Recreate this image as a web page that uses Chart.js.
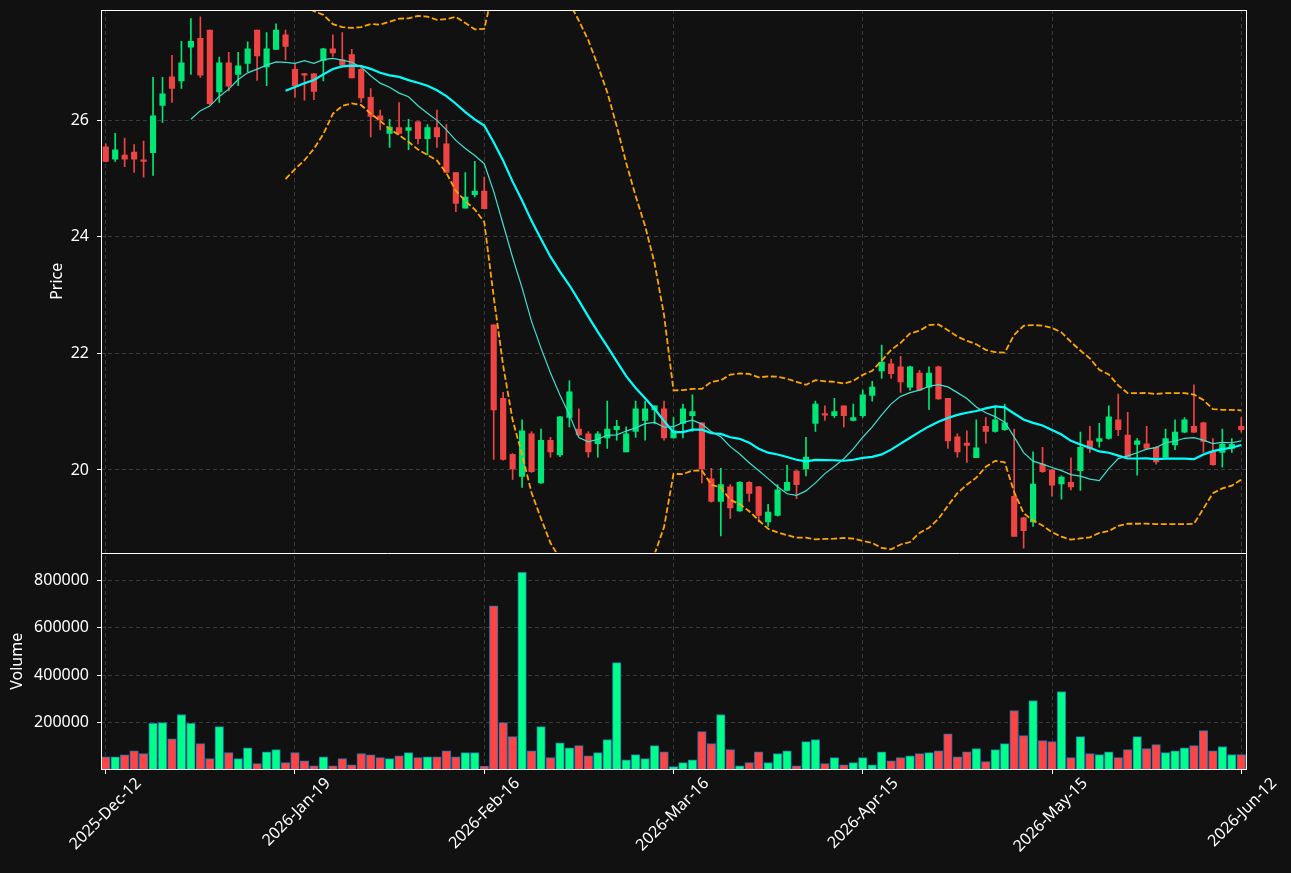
<!DOCTYPE html>
<html>
<head>
<meta charset="utf-8">
<script src="https://cdn.jsdelivr.net/npm/chart.js@4.4.1/dist/chart.umd.min.js"></script>
<style>
  html, body { margin: 0; padding: 0; background: #111111; }
</style>
</head>
<body>
<canvas id="chart" width="1291" height="873"></canvas>
<script>
// tick labels, one every 20 sessions
const tickDates = ["2025-Dec-12", "2026-Jan-19", "2026-Feb-16", "2026-Mar-16", "2026-Apr-15", "2026-May-15", "2026-Jun-12"];

const opens = [
  25.54, 25.33, 25.40, 25.45, 25.31, 25.44, 26.25, 26.74, 26.67, 27.25,
  27.40, 27.54, 26.48, 26.98, 26.78, 26.97, 27.54, 26.91, 27.21, 27.46,
  26.87, 26.79, 26.79, 27.02, 27.22, 27.03, 27.12, 26.87, 26.39, 26.07,
  25.77, 25.87, 25.82, 25.97, 25.68, 25.87, 25.59, 25.10, 24.49, 24.72,
  24.78, 22.49, 21.23, 20.27, 19.89, 20.62, 19.78, 20.51, 20.26, 20.90,
  20.70, 20.62, 20.45, 20.55, 20.69, 20.31, 20.66, 20.85, 21.03, 21.05,
  20.55, 20.80, 20.93, 20.81, 19.85, 19.46, 19.71, 19.30, 19.79, 19.71,
  19.11, 19.22, 19.65, 19.98, 20.02, 20.80, 20.96, 20.93, 21.10, 20.85,
  20.93, 21.28, 21.70, 21.82, 21.77, 21.42, 21.66, 21.42, 21.77, 21.23,
  20.57, 20.46, 20.21, 20.75, 20.66, 20.69, 19.55, 19.18, 19.11, 20.10,
  20.00, 19.76, 19.79, 19.99, 20.50, 20.49, 20.54, 20.86, 20.60, 20.44,
  20.45, 20.39, 20.22, 20.43, 20.65, 20.75, 20.81, 20.31, 20.30, 20.37,
  20.75
];
const highs = [
  25.59, 25.77, 25.69, 25.58, 25.64, 26.73, 26.73, 27.11, 27.35, 27.74,
  27.77, 27.54, 27.08, 27.16, 27.16, 27.34, 27.54, 27.50, 27.65, 27.54,
  26.97, 26.80, 26.80, 27.23, 27.46, 27.50, 27.21, 26.88, 26.54, 26.17,
  26.01, 26.30, 26.01, 25.98, 25.92, 26.17, 25.92, 25.10, 25.10, 25.29,
  25.02, 22.49, 21.33, 20.28, 20.86, 20.66, 20.70, 20.56, 20.92, 21.53,
  21.05, 20.66, 20.66, 21.18, 20.85, 20.74, 21.18, 21.18, 21.10, 21.18,
  20.90, 21.13, 21.29, 20.81, 20.03, 20.03, 19.75, 19.80, 19.80, 19.72,
  19.41, 19.75, 20.08, 19.99, 20.56, 21.18, 21.10, 21.23, 21.10, 21.13,
  21.37, 21.52, 22.14, 21.90, 21.95, 21.78, 21.71, 21.77, 21.78, 21.23,
  20.62, 20.67, 20.86, 20.90, 21.09, 21.13, 20.70, 19.19, 20.31, 20.39,
  20.01, 19.90, 20.21, 20.65, 20.75, 20.80, 21.10, 21.30, 20.99, 20.54,
  20.75, 20.40, 20.70, 20.86, 20.90, 21.46, 20.82, 20.54, 20.70, 20.54,
  20.90
];
const lows = [
  25.28, 25.29, 25.20, 25.10, 25.02, 25.05, 25.96, 26.30, 26.54, 26.78,
  26.73, 26.26, 26.30, 26.50, 26.59, 26.83, 26.68, 26.59, 27.21, 27.03,
  26.39, 26.34, 26.35, 26.67, 27.09, 26.93, 26.72, 26.30, 25.71, 25.83,
  25.53, 25.76, 25.49, 25.59, 25.40, 25.53, 25.10, 24.43, 24.49, 24.68,
  24.48, 20.18, 20.17, 19.84, 19.70, 19.96, 19.77, 20.22, 20.23, 20.74,
  20.59, 20.22, 20.22, 20.37, 20.51, 20.31, 20.56, 20.51, 20.79, 20.51,
  20.55, 20.55, 20.66, 19.78, 19.45, 18.87, 19.17, 19.29, 19.46, 19.11,
  19.03, 19.21, 19.64, 19.51, 19.90, 20.66, 20.85, 20.90, 20.74, 20.84,
  20.90, 21.18, 21.57, 21.57, 21.33, 21.37, 21.36, 21.04, 21.21, 20.37,
  20.22, 20.13, 20.21, 20.46, 20.65, 20.68, 18.86, 18.66, 19.03, 19.96,
  19.55, 19.50, 19.66, 19.65, 20.30, 20.39, 20.53, 20.59, 20.22, 19.91,
  20.36, 20.10, 20.21, 20.35, 20.64, 20.64, 20.30, 20.08, 20.05, 20.30,
  20.65
];
const closes = [
  25.29, 25.49, 25.33, 25.33, 25.29, 26.07, 26.45, 26.54, 26.98, 27.35,
  26.77, 26.28, 26.98, 26.58, 26.93, 27.22, 27.10, 27.22, 27.54, 27.26,
  26.59, 26.77, 26.49, 27.22, 27.15, 26.94, 26.72, 26.38, 26.06, 26.00,
  25.88, 25.77, 25.87, 25.68, 25.87, 25.71, 25.10, 24.57, 24.68, 24.78,
  24.48, 21.03, 20.18, 20.02, 20.67, 19.97, 20.51, 20.31, 20.91, 21.34,
  20.60, 20.31, 20.62, 20.70, 20.75, 20.62, 21.05, 21.05, 21.10, 20.55,
  20.67, 21.05, 21.00, 20.02, 19.46, 19.75, 19.35, 19.79, 19.60, 19.22,
  19.28, 19.66, 19.79, 19.75, 20.22, 21.13, 20.94, 21.00, 20.93, 20.90,
  21.29, 21.42, 21.85, 21.65, 21.51, 21.77, 21.37, 21.66, 21.22, 20.50,
  20.31, 20.42, 20.38, 20.66, 20.86, 20.81, 18.86, 18.96, 19.76, 19.97,
  19.74, 19.88, 19.71, 20.39, 20.36, 20.54, 20.91, 20.69, 20.23, 20.50,
  20.37, 20.14, 20.54, 20.65, 20.86, 20.65, 20.49, 20.09, 20.44, 20.44,
  20.69
];
const volumes = [
  56000, 56000, 64000, 81000, 69000, 197000, 200000, 132000, 234000, 197000,
  111000, 48000, 183000, 73000, 48000, 94000, 27000, 77000, 86000, 31000,
  73000, 39000, 18000, 56000, 18000, 48000, 22000, 69000, 64000, 52000,
  48000, 60000, 73000, 52000, 56000, 56000, 81000, 56000, 73000, 73000,
  17000, 692000, 200000, 141000, 834000, 81000, 183000, 52000, 115000, 94000,
  103000, 60000, 73000, 128000, 453000, 43000, 65000, 48000, 103000, 77000,
  14000, 31000, 43000, 162000, 111000, 234000, 86000, 18000, 31000, 77000,
  31000, 69000, 81000, 18000, 120000, 128000, 27000, 52000, 22000, 31000,
  52000, 22000, 77000, 39000, 52000, 60000, 69000, 73000, 81000, 153000,
  56000, 77000, 90000, 35000, 86000, 111000, 251000, 145000, 293000, 124000,
  120000, 331000, 52000, 141000, 69000, 65000, 77000, 52000, 86000, 141000,
  90000, 107000, 73000, 81000, 94000, 103000, 166000, 81000, 99000, 65000,
  65000
];

const priceTicks = [20, 22, 24, 26];
const volumeTicks = [200000, 400000, 600000, 800000];

const UP = "#00e676";
const DOWN = "#ef4444";
const VOL_UP = "#00ff88";
const VOL_DOWN = "#ff4444";
const GRID = "#3a3a3a";
const FONT = { family: "'Noto Sans', sans-serif", size: 16 };

// moving averages and bollinger bands of the closes above
const rollingMean = (vals, n) =>
  vals.map((_, i) => {
    if (i < n - 1) return null;
    const win = vals.slice(i - n + 1, i + 1);
    return win.reduce((a, b) => a + b, 0) / n;
  });

const rollingStd = (vals, n) => {
  const means = rollingMean(vals, n);
  return vals.map((_, i) => {
    if (i < n - 1) return null;
    const win = vals.slice(i - n + 1, i + 1);
    const v = win.reduce((a, b) => a + (b - means[i]) ** 2, 0) / n;
    return Math.sqrt(v);
  });
};

const ma10 = rollingMean(closes, 10);
const ma20 = rollingMean(closes, 20);
const sd20 = rollingStd(closes, 20);
const bbUpper = ma20.map((m, i) => (m === null ? null : m + 2 * sd20[i]));
const bbLower = ma20.map((m, i) => (m === null ? null : m - 2 * sd20[i]));

const isUp = closes.map((c, i) => c >= opens[i]);
const labels = closes.map((_, i) => (i % 20 === 0 ? tickDates[i / 20] : ""));

// keep price datasets inside the top pane
const clipPrice = {
  id: "clipPrice",
  beforeDatasetDraw(chart, args) {
    if (args.meta.yAxisID !== "y") return;
    const s = chart.scales.y;
    const a = chart.chartArea;
    chart.ctx.save();
    chart.ctx.beginPath();
    chart.ctx.rect(a.left, s.top, a.right - a.left, s.bottom - s.top);
    chart.ctx.clip();
  },
  afterDatasetDraw(chart, args) {
    if (args.meta.yAxisID === "y") chart.ctx.restore();
  },
};

const frame = {
  id: "frame",
  afterDraw(chart) {
    const { ctx, chartArea: a } = chart;
    const split = Math.round(chart.scales.y.bottom) + 0.5;
    ctx.save();
    ctx.strokeStyle = "#ffffff";
    ctx.lineWidth = 1;
    ctx.strokeRect(a.left + 0.5, a.top + 0.5, a.right - a.left, a.bottom - a.top - 1);
    ctx.beginPath();
    ctx.moveTo(a.left, split);
    ctx.lineTo(a.right, split);
    ctx.stroke();
    ctx.restore();
  },
};

// no extra room for half tick labels at the pane edges
const noEdgePadding = (s) => {
  s.paddingTop = 0;
  s.paddingBottom = 0;
  s.paddingLeft = 0;
  s.paddingRight = 0;
};

const lineStyle = { type: "line", yAxisID: "y", pointRadius: 0, tension: 0, fill: false, order: 0 };

new Chart(document.getElementById("chart"), {
  data: {
    labels: labels,
    datasets: [
      {
        type: "bar",
        label: "wick",
        data: lows.map((l, i) => [l, highs[i]]),
        yAxisID: "y",
        backgroundColor: isUp.map((u) => (u ? UP : DOWN)),
        barThickness: 1,
        grouped: false,
        order: 2,
      },
      {
        type: "bar",
        label: "body",
        data: opens.map((o, i) => [o, closes[i]]),
        yAxisID: "y",
        backgroundColor: isUp.map((u) => (u ? UP : DOWN)),
        barThickness: 5.5,
        minBarLength: 1.5,
        grouped: false,
        order: 1,
      },
      { ...lineStyle, label: "MA10", data: ma10, borderColor: "#40e0d0", borderWidth: 1.2 },
      { ...lineStyle, label: "MA20", data: ma20, borderColor: "#00ffff", borderWidth: 2.2 },
      { ...lineStyle, label: "BB upper", data: bbUpper, borderColor: "#ffa500", borderWidth: 1.8, borderDash: [6, 2.6] },
      { ...lineStyle, label: "BB lower", data: bbLower, borderColor: "#ffa500", borderWidth: 1.8, borderDash: [6, 2.6] },
      {
        type: "bar",
        label: "Volume",
        data: volumes,
        yAxisID: "v",
        backgroundColor: isUp.map((u) => (u ? VOL_UP : VOL_DOWN)),
        borderColor: "#1f77b4",
        borderWidth: 1,
        borderSkipped: false,
        barThickness: 8.6,
        grouped: false,
        order: 3,
      },
    ],
  },
  options: {
    responsive: false,
    animation: false,
    layout: { padding: { top: 10, right: 45, left: 0, bottom: 0 } },
    plugins: { legend: { display: false }, tooltip: { enabled: false } },
    scales: {
      x: {
        type: "category",
        offset: true,
        grid: {
          offset: false,
          color: (ctx) => (ctx.index % 20 === 0 ? GRID : "transparent"),
          tickColor: (ctx) => (ctx.index % 20 === 0 ? "#ffffff" : "transparent"),
          tickLength: 4,
        },
        border: { display: false, dash: [4, 3] },
        ticks: {
          autoSkip: false,
          minRotation: 45,
          maxRotation: 45,
          color: "#ffffff",
          font: FONT,
          labelOffset: 33,
          padding: 0,
        },
        afterFit: (s) => {
          noEdgePadding(s);
          s.height = 103;
        },
      },
      v: {
        type: "linear",
        position: "left",
        stack: "panes",
        stackWeight: 217.5,
        min: 0,
        max: 917400,
        afterBuildTicks: (s) => { s.ticks = volumeTicks.map((v) => ({ value: v })); },
        ticks: { color: "#ffffff", font: FONT, padding: 8, callback: (v) => String(v) },
        grid: { color: GRID, tickColor: "#ffffff", tickLength: 4 },
        border: { display: false, dash: [4, 3] },
        title: { display: true, text: "Volume", color: "#ffffff", font: FONT, padding: { top: 8, bottom: 0 } },
        afterFit: (s) => {
          noEdgePadding(s);
          s.width = 101;
        },
      },
      y: {
        type: "linear",
        position: "left",
        stack: "panes",
        stackWeight: 542.5,
        min: 18.585,
        max: 27.886,
        afterBuildTicks: (s) => { s.ticks = priceTicks.map((v) => ({ value: v })); },
        ticks: { color: "#ffffff", font: FONT, padding: 8, callback: (v) => String(v) },
        grid: { color: GRID, tickColor: "#ffffff", tickLength: 4 },
        border: { display: false, dash: [4, 3] },
        title: { display: true, text: "Price", color: "#ffffff", font: FONT, padding: { top: 48, bottom: 0 } },
        afterFit: (s) => {
          noEdgePadding(s);
          s.width = 101;
        },
      },
    },
  },
  plugins: [clipPrice, frame],
});
</script>
</body>
</html>
